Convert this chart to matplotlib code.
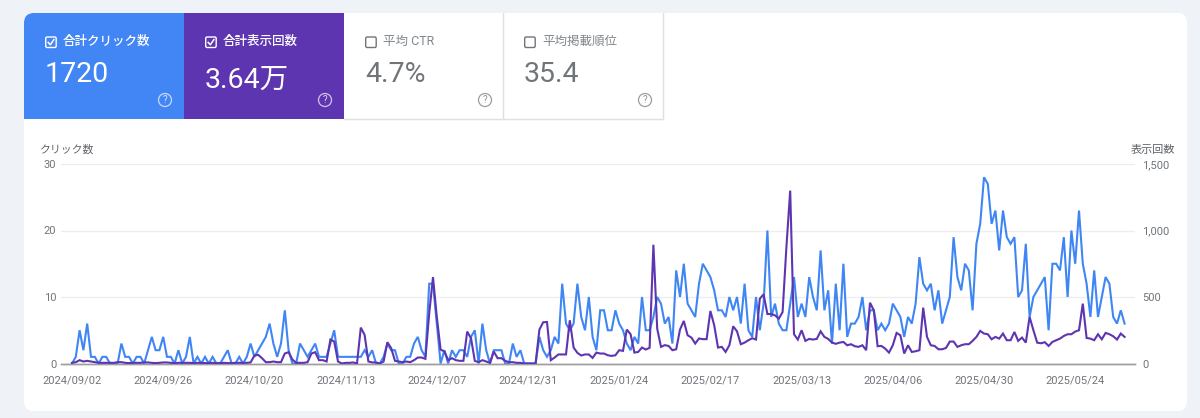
# -*- coding: utf-8 -*-
"""
検索パフォーマンス画面の再現 - クリック数と表示回数
"""

import pandas as pd
import matplotlib.pyplot as plt
from matplotlib.patches import FancyBboxPatch, Rectangle, Circle

plt.rcParams['font.family'] = ['Roboto', 'Noto Sans CJK JP', 'DejaVu Sans']

BLUE = '#4285f4'
PURPLE = '#5e35b1'
GRAY_TEXT = '#70757a'

start_date = '2024-09-02'

clicks = [
    0, 1, 5, 2, 6, 1, 1, 0, 1, 1,
    0, 0, 0, 3, 1, 1, 0, 1, 1, 0,
    2, 4, 2, 2, 4, 1, 1, 0, 2, 0,
    1, 4, 0, 1, 0, 1, 0, 1, 0, 0,
    1, 2, 0, 0, 1, 0, 1, 3, 1, 2,
    3, 4, 6, 3, 1, 3, 8, 2, 0, 0,
    3, 2, 1, 2, 3, 1, 1, 1, 3, 5,
    1, 1, 1, 1, 1, 1, 1, 2, 1, 2,
    0, 0, 1, 3, 2, 2, 0, 0, 1, 1,
    3, 4, 2, 1, 12, 12, 6, 0, 2, 0,
    2, 1, 2, 2, 1, 4, 5, 0, 6, 2,
    0, 2, 2, 2, 0, 0, 3, 1, 2, 0,
    0, 0, 0, 4, 2, 1, 2, 4, 3, 12,
    6, 5, 6, 12, 7, 5, 10, 4, 2, 8,
    8, 5, 5, 8, 6, 5, 3, 2, 4, 3,
    10, 5, 5, 7, 10, 9, 6, 7, 3, 14,
    10, 15, 9, 8, 7, 12, 15, 14, 13, 11,
    8, 8, 7, 10, 8, 10, 6, 12, 5, 4,
    10, 5, 9, 20, 7, 9, 6, 5, 5, 9,
    13, 7, 9, 7, 13, 10, 8, 17, 8, 11,
    3, 12, 5, 15, 4, 6, 6, 7, 10, 5,
    8, 8, 5, 6, 5, 6, 9, 8, 7, 4,
    7, 6, 9, 16, 12, 11, 12, 8, 11, 6,
    8, 10, 19, 13, 11, 15, 14, 8, 18, 21,
    28, 27, 21, 23, 17, 23, 19, 18, 19, 10,
    11, 18, 7, 10, 11, 12, 13, 5, 15, 15,
    14, 19, 10, 20, 15, 23, 15, 12, 7, 14,
    7, 10, 13, 12, 7, 6, 8, 6,
]

impressions = [
    5, 10, 25, 15, 20, 15, 10, 5, 5, 5,
    5, 5, 10, 10, 5, 3, 5, 5, 5, 8,
    8, 5, 3, 5, 8, 8, 5, 3, 5, 5,
    5, 5, 3, 5, 5, 3, 3, 5, 3, 3,
    5, 3, 3, 5, 5, 5, 5, 8, 60, 65,
    40, 10, 10, 15, 10, 10, 75, 85, 30, 5,
    5, 5, 10, 75, 85, 25, 25, 15, 180, 165,
    15, 0, 5, 5, 8, 0, 270, 215, 15, 8,
    8, 0, 15, 160, 115, 20, 15, 10, 15, 10,
    25, 45, 45, 35, 375, 650, 350, 105, 90, 25,
    40, 25, 20, 20, 240, 190, 20, 10, 25, 15,
    5, 90, 40, 40, 20, 10, 10, 5, 5, 0,
    0, 0, 0, 255, 310, 312, 25, 45, 68, 68,
    68, 325, 120, 80, 60, 68, 68, 42, 82, 75,
    75, 62, 57, 62, 100, 95, 255, 220, 82, 87,
    120, 105, 118, 893, 262, 125, 138, 132, 100, 107,
    255, 320, 212, 195, 150, 188, 183, 183, 395, 288,
    120, 125, 87, 138, 280, 242, 145, 157, 175, 190,
    180, 487, 520, 372, 372, 362, 337, 387, 875, 1300,
    220, 180, 250, 170, 185, 180, 185, 242, 200, 185,
    157, 148, 157, 162, 137, 145, 130, 125, 137, 100,
    457, 400, 130, 132, 112, 82, 137, 230, 212, 75,
    137, 87, 92, 100, 420, 200, 137, 132, 107, 107,
    117, 165, 165, 125, 137, 145, 145, 170, 200, 245,
    225, 220, 182, 200, 187, 225, 175, 175, 237, 170,
    195, 157, 350, 250, 157, 152, 160, 132, 162, 175,
    187, 207, 220, 220, 240, 250, 450, 192, 187, 175,
    220, 182, 230, 220, 205, 180, 225, 200,
]

tick_dates = ['2024/09/02', '2024/09/26', '2024/10/20', '2024/11/13',
              '2024/12/07', '2024/12/31', '2025/01/24', '2025/02/17',
              '2025/03/13', '2025/04/06', '2025/04/30', '2025/05/24']

click_ticks = [0, 10, 20, 30]
impression_ticks = [0, 500, 1000, 1500]
impression_labels = ['0', '500', '1,000', '1,500']

tile_labels = ['合計クリック数', '合計表示回数', '平均 CTR', '平均掲載順位']
tile_values = ['1720', '3.64万', '4.7%', '35.4']

W, H = 1200, 418
fig = plt.figure(figsize=(W / 100, H / 100), dpi=100, facecolor='#eff3f8')

# ピクセル座標の背景レイヤー
bg = fig.add_axes([0, 0, 1, 1], zorder=0)
bg.set_xlim(0, W)
bg.set_ylim(H, 0)
bg.axis('off')

card = FancyBboxPatch((24, 13), 1163, 398, boxstyle='round,pad=0,rounding_size=10',
                      facecolor='white', edgecolor='none')
bg.add_patch(card)

# タイル
tile_x = [24, 184, 344, 503]
tile_w = [160, 160, 159, 160]
tile_color = [BLUE, PURPLE, 'white', 'white']
for k in range(4):
    x = tile_x[k]
    active = k < 2
    rect = Rectangle((x, 13), tile_w[k], 105.5, facecolor=tile_color[k], edgecolor='none')
    bg.add_patch(rect)
    rect.set_clip_path(card)
    if not active:
        bg.plot([x + tile_w[k], x + tile_w[k]], [13, 118.5], color='#e0e0e0', lw=1)
        bg.plot([x, x + tile_w[k]], [118.5, 118.5], color='#e0e0e0', lw=1)

    fg = 'white' if active else GRAY_TEXT
    # チェックボックス
    bx = x + 21.7
    box = FancyBboxPatch((bx, 37), 10.5, 10.5, boxstyle='round,pad=0,rounding_size=1.5',
                         facecolor='none', edgecolor=fg, lw=1.0)
    bg.add_patch(box)
    if active:
        bg.plot([bx + 2.5, bx + 4.6, bx + 8.2], [42.4, 44.8, 39.6], color='white', lw=1.1)

    bg.text(x + 39, 41, tile_labels[k], color=fg if active else '#80868b', fontsize=9,
            va='center', ha='left', fontweight='medium' if active else 'normal')
    value_y = 80 if k == 1 else 75
    bg.text(x + 21, value_y, tile_values[k], color=fg, fontsize=20.5, va='center', ha='left')

    # ヘルプアイコン
    cx = x + (142 if k == 3 else 141)
    bg.add_patch(Circle((cx, 100), 6.5, facecolor='none', edgecolor=fg, lw=0.9, alpha=0.7))
    bg.text(cx, 100, '?', color=fg, fontsize=7, va='center', ha='center', alpha=0.8)

# 折れ線グラフ
dates = pd.date_range(start_date, periods=len(clicks), freq='D')
day = 3.8
px_left, px_right, px_top, px_bottom = 61, 1135, 164, 363.5

ax = fig.add_axes([px_left / W, 1 - px_bottom / H,
                   (px_right - px_left) / W, (px_bottom - px_top) / H], zorder=1)
ax.patch.set_alpha(0)
ax2 = ax.twinx()

x0 = dates[0] - pd.Timedelta(days=(72 - px_left) / day)
x1 = dates[0] + pd.Timedelta(days=(px_right - 72) / day)

ax.plot(dates, clicks, color='#3f86f5', lw=1.5, zorder=3, solid_joinstyle='miter')
ax2.plot(dates, impressions, color=PURPLE, lw=1.5, zorder=4, solid_joinstyle='miter')

ax.set_xlim(x0, x1)
ax.set_ylim(0, 30)
ax2.set_ylim(0, 1500)

ax.set_yticks(click_ticks)
ax2.set_yticks(impression_ticks, labels=impression_labels)
ax.set_xticks(pd.to_datetime(tick_dates), labels=tick_dates)

ax.grid(axis='y', color='#eeeeee', lw=1)
ax.set_axisbelow(True)
ax.tick_params(axis='both', length=0, labelsize=8, labelcolor=GRAY_TEXT)
ax.tick_params(axis='x', pad=8.5)
ax.tick_params(axis='y', pad=3.5)
ax2.tick_params(axis='y', length=0, labelsize=8, labelcolor=GRAY_TEXT, pad=5)

for a in (ax, ax2):
    for side in ['top', 'left', 'right']:
        a.spines[side].set_visible(False)
    a.spines['bottom'].set_color('#9e9e9e')
    a.spines['bottom'].set_linewidth(1)

bg.text(40, 149.5, 'クリック数', color='#5f6368', fontsize=7.8, va='center', ha='left')
bg.text(1131, 149.5, '表示回数', color='#5f6368', fontsize=8, va='center', ha='left')

plt.savefig('out.png', dpi=100, facecolor=fig.get_facecolor())
plt.close()
